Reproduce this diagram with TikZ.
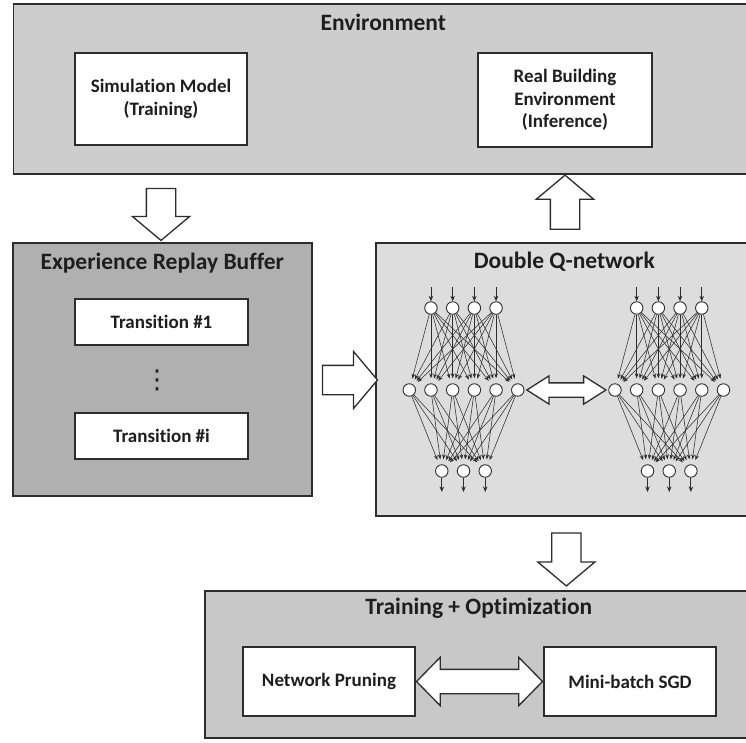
\documentclass[tikz,border=0pt]{standalone}
\usepackage{fontspec}
\setmainfont{Carlito}[Ligatures=NoCommon]
\newfontfamily\dotsfont{DejaVu Sans}
\usetikzlibrary{positioning,calc,shapes.arrows,arrows.meta}

\definecolor{edgegray}{RGB}{45,45,45}
\definecolor{inkgray}{RGB}{30,30,30}
\definecolor{envfill}{RGB}{205,205,205}
\definecolor{bufferfill}{RGB}{176,176,176}
\definecolor{netfill}{RGB}{221,221,221}
\definecolor{trainfill}{RGB}{200,200,200}

\tikzset{
  panel/.style={draw=edgegray, line width=1.6pt, inner sep=0pt, anchor=north west},
  paneltitle/.style={font=\fontsize{23.5}{27}\selectfont\bfseries, text=inkgray, inner sep=0pt},
  stagebox/.style={draw=edgegray, fill=white, line width=1.5pt, inner sep=0pt, align=center,
    font=\fontsize{19}{22.5}\selectfont\bfseries, text=inkgray},
  blockarrow/.style={single arrow, draw=edgegray, fill=white, line width=1.3pt, inner sep=0pt,
    inner ysep=14pt, minimum width=0pt, single arrow head extend=14pt, single arrow tip angle=100},
  twinarrow/.style={double arrow, draw=edgegray, fill=white, line width=1.3pt, inner sep=0pt,
    minimum width=0pt},
  neuron/.style={circle, draw=edgegray, fill=white, line width=0.9pt, minimum size=12.5pt, inner sep=0pt},
  synapse/.style={draw=edgegray, line width=0.55pt, -{Stealth[length=5pt,width=3.6pt]}, shorten >=5pt},
  feed/.style={draw=edgegray, line width=0.9pt, -{Stealth[length=5.5pt,width=4.5pt]}}
}

\begin{document}
\begin{tikzpicture}[x=1pt,y=-1pt]
  \fill[white] (0,0) rectangle (746,743);
  \useasboundingbox (0,0) rectangle (746,743);

  % panels
  \node[panel, fill=envfill, minimum width=740pt, minimum height=170pt] (env) at (12.5,3) {};
  \node[panel, fill=bufferfill, minimum width=299pt, minimum height=253pt] (erb) at (12,242) {};
  \node[panel, fill=netfill, minimum width=377pt, minimum height=273pt] (dqn) at (375,242) {};
  \node[panel, fill=trainfill, minimum width=548pt, minimum height=147pt] (train) at (204,590) {};

  \node[paneltitle] at ($(env.north)+(0,19)$) {Environment};
  \node[paneltitle] at ($(erb.north)+(0,21)$) {Experience Replay Buffer};
  \node[paneltitle] at ($(dqn.north)+(0,20)$) {Double Q-network};
  \node[paneltitle] at ($(train.north)+(0,18)$) {Training + Optimization};

  % inner boxes
  \node[stagebox, minimum width=172pt, minimum height=92pt] (sim) at (161,99) {Simulation Model\\(Training)};
  \node[stagebox, minimum width=174pt, minimum height=94pt] (real) at (565,100) {Real Building\\Environment\\(Inference)};
  \node[stagebox, minimum width=173pt, minimum height=46pt] (tr1) at (161.5,322) {Transition \#1};
  \node[stagebox, minimum width=173pt, minimum height=46pt] (tri) at (161.5,436) {Transition \#i};
  \node[font=\dotsfont\fontsize{26}{30}\selectfont, text=inkgray, inner sep=0pt] (dots) at (157,380) {⋮};
  \node[stagebox, minimum width=172pt, minimum height=69pt] (prune) at (329,681.5) {Network Pruning};
  \node[stagebox, minimum width=172pt, minimum height=69pt] (sgd) at (630,681.5) {Mini-batch SGD};

  % the two Q-networks
  \foreach \net/\cx in {lq/463.5, rq/669.2} {
    \foreach \i in {1,...,4}
      \node[neuron] (\net-in-\i) at ({\cx+(\i-2.5)*21.7},308) {};
    \foreach \j in {1,...,6}
      \node[neuron] (\net-hid-\j) at ({\cx+(\j-3.5)*21.7},390) {};
    \foreach \k in {1,...,3}
      \node[neuron] (\net-out-\k) at ({\cx+(\k-2)*21.7},471) {};
    \foreach \i in {1,...,4} {
      \coordinate (\net-src-\i) at ({\cx+(\i-2.5)*21.7},287);
      \draw[feed] (\net-src-\i) -- (\net-in-\i.north);
      \foreach \j in {1,...,6}
        \draw[synapse] (\net-in-\i) -- (\net-hid-\j);
    }
    \foreach \k in {1,...,3} {
      \coordinate (\net-sink-\k) at ({\cx+(\k-2)*21.7},492);
      \draw[feed] (\net-out-\k.south) -- (\net-sink-\k);
      \foreach \j in {1,...,6}
        \draw[synapse] (\net-hid-\j) -- (\net-out-\k);
    }
  }

  % block arrows between the panels
  \node[twinarrow, minimum height=79pt, inner ysep=6.5pt, double arrow head extend=7pt,
    double arrow tip angle=65] (qswap) at ($(lq-hid-6.east)!0.5!(rq-hid-1.west)$) {};
  \node[twinarrow, minimum height=126pt, inner ysep=11.5pt, double arrow head extend=12pt,
    double arrow tip angle=91] (tswap) at ($(prune.east)!0.5!(sgd.west)$) {};
  \node[blockarrow, rotate=-90, minimum height=52pt] (simdown) at ($(sim.south|-env.south)!0.5!(sim.south|-erb.north)$) {};
  \node[blockarrow, rotate=90, minimum height=54pt] (envup) at ($(real.south|-env.south)!0.5!(real.south|-dqn.north)$) {};
  \node[blockarrow, minimum height=55pt] (feedright) at ($(erb.east|-dots)!0.5!(dqn.west|-dots)$) {};
  \node[blockarrow, rotate=-90, minimum height=53pt] (traindown) at ($(qswap|-dqn.south)!0.5!(qswap|-train.north)$) {};
\end{tikzpicture}
\end{document}
